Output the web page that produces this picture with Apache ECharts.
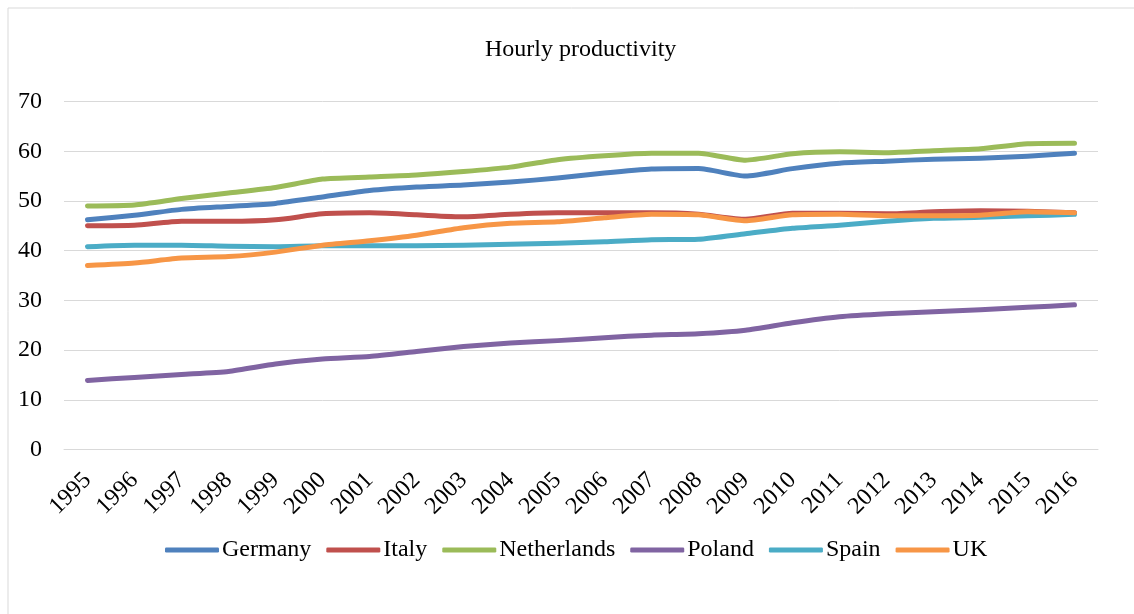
<!DOCTYPE html>
<html>
<head>
<meta charset="utf-8">
<title>Hourly productivity</title>
<script src="https://cdn.jsdelivr.net/npm/echarts@6/dist/echarts.min.js"></script>
<style>
  html, body { margin: 0; padding: 0; background: #fff; }
  #main { width: 1134px; height: 614px; }
</style>
</head>
<body>
<div id="main"></div>
<script>
var years = ['1995', '1996', '1997', '1998', '1999', '2000', '2001', '2002', '2003', '2004', '2005',
  '2006', '2007', '2008', '2009', '2010', '2011', '2012', '2013', '2014', '2015', '2016'];

var germany = [46.2, 47.1, 48.3, 48.9, 49.5, 50.8, 52.1, 52.8, 53.2, 53.8, 54.6, 55.6, 56.4, 56.5, 55.0, 56.5, 57.6, 58.0, 58.4, 58.6, 59.0, 59.6];
var italy = [45.0, 45.1, 45.9, 45.9, 46.2, 47.4, 47.6, 47.2, 46.8, 47.3, 47.6, 47.6, 47.6, 47.3, 46.3, 47.5, 47.5, 47.4, 47.8, 48.0, 47.9, 47.6];
var netherlands = [49.0, 49.2, 50.5, 51.6, 52.7, 54.4, 54.8, 55.2, 55.9, 56.8, 58.3, 59.1, 59.6, 59.6, 58.2, 59.5, 59.9, 59.7, 60.1, 60.5, 61.5, 61.6];
var poland = [13.9, 14.5, 15.1, 15.7, 17.2, 18.2, 18.7, 19.7, 20.7, 21.4, 21.9, 22.5, 23.0, 23.3, 24.0, 25.5, 26.7, 27.3, 27.7, 28.1, 28.6, 29.1];
var spain = [40.8, 41.1, 41.1, 40.9, 40.8, 41.0, 41.0, 41.0, 41.1, 41.3, 41.5, 41.8, 42.2, 42.3, 43.4, 44.5, 45.1, 45.9, 46.5, 46.7, 47.0, 47.3];
var uk = [37.0, 37.5, 38.5, 38.8, 39.7, 41.1, 42.0, 43.1, 44.6, 45.5, 45.8, 46.6, 47.3, 47.2, 46.0, 47.2, 47.3, 47.0, 47.0, 47.1, 47.8, 47.6];

var names = ['Germany', 'Italy', 'Netherlands', 'Poland', 'Spain', 'UK'];
var colors = ['#4f81bd', '#c0504d', '#9bbb59', '#8064a2', '#4bacc6', '#f79646'];
var values = [germany, italy, netherlands, poland, spain, uk];

var font = 'Liberation Serif';

var seriesList = [];
for (var i = 0; i < names.length; i++) {
  seriesList.push({
    name: names[i],
    type: 'line',
    data: values[i],
    smooth: 0.2,
    symbol: 'none',
    lineStyle: { width: 5, color: colors[i], cap: 'round', join: 'round' },
    itemStyle: { color: colors[i] }
  });
}

var myChart = echarts.init(document.getElementById('main'));
var option = {
  backgroundColor: '#fff',
  animation: false,
  graphic: [{
    type: 'rect',
    shape: { x: 8, y: 8, width: 1300, height: 800 },
    style: { fill: 'none', stroke: '#d9d9d9', lineWidth: 1 },
    silent: true
  }],
  title: {
    text: 'Hourly productivity',
    left: 480,
    top: 33,
    textStyle: { fontFamily: font, fontSize: 24, fontWeight: 'normal', color: '#000' }
  },
  legend: {
    data: names,
    left: 160,
    top: 533,
    icon: 'roundRect',
    itemWidth: 54,
    itemHeight: 5,
    itemGap: 15,
    textStyle: { fontFamily: font, fontSize: 24, color: '#000', padding: [0, 0, 0, -2] }
  },
  grid: { left: 64, right: 36, top: 101.5, bottom: 164.5 },
  xAxis: {
    type: 'category',
    data: years,
    boundaryGap: true,
    axisLine: { lineStyle: { color: '#d9d9d9', width: 1 } },
    axisTick: { show: false },
    axisLabel: { rotate: 45, margin: 27, fontFamily: font, fontSize: 24, color: '#000' }
  },
  yAxis: {
    type: 'value',
    min: 0,
    max: 70,
    interval: 10,
    axisLine: { show: false },
    axisTick: { show: false },
    splitLine: { lineStyle: { color: '#d9d9d9', width: 1 } },
    axisLabel: { margin: 22, fontFamily: font, fontSize: 24, color: '#000' }
  },
  series: seriesList
};
myChart.setOption(option);
window.addEventListener('resize', myChart.resize);
</script>
</body>
</html>
